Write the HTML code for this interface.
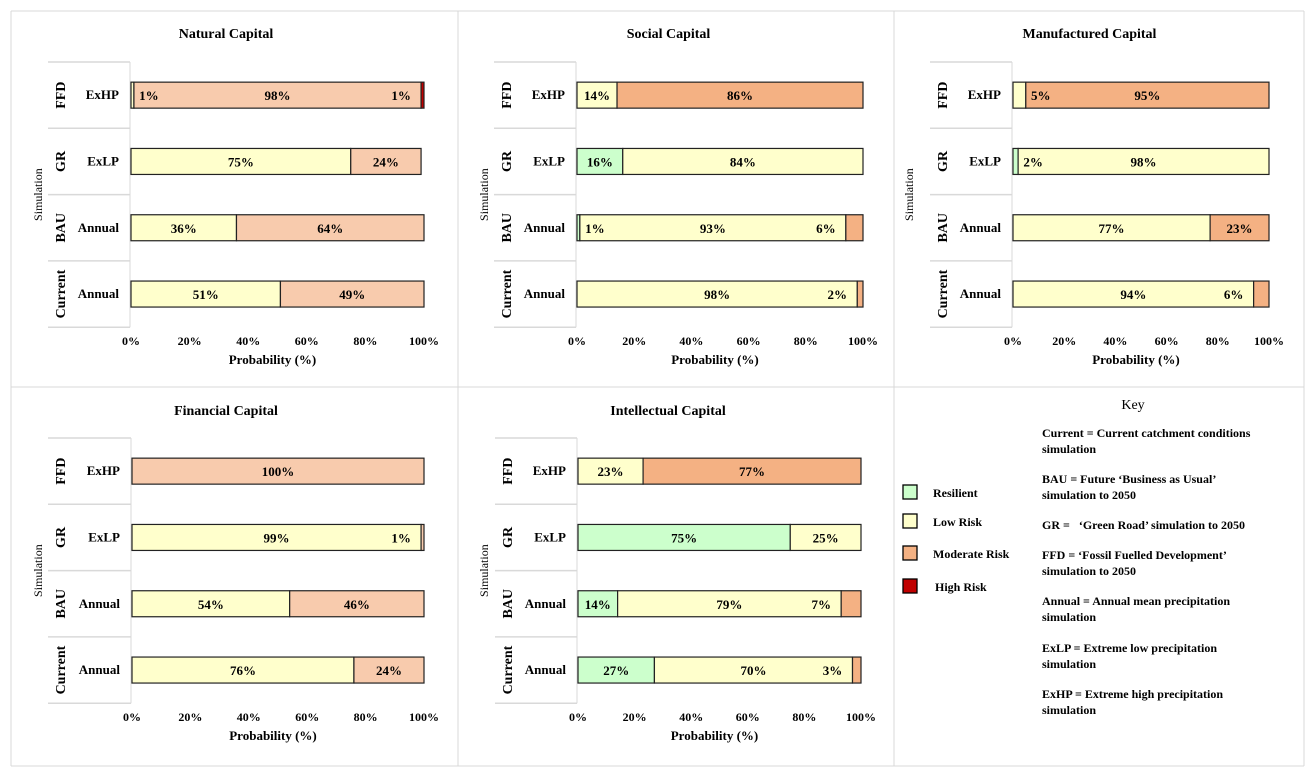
<!DOCTYPE html>
<html><head><meta charset="utf-8">
<style>
body{margin:0;background:#fff;}
svg{display:block;font-family:"Liberation Serif",serif;}
</style></head>
<body>
<svg id="chart" width="1315" height="780" viewBox="0 0 1315 780">
  <g stroke="#d9d9d9" stroke-width="1">
    <line x1="11" y1="11" x2="1304" y2="11"/>
    <line x1="11" y1="387" x2="1304" y2="387"/>
    <line x1="11" y1="766" x2="1304" y2="766"/>
    <line x1="11" y1="11" x2="11" y2="766"/>
    <line x1="458" y1="11" x2="458" y2="766"/>
    <line x1="894" y1="11" x2="894" y2="766"/>
    <line x1="1304" y1="11" x2="1304" y2="766"/>
  </g>
  <g id="charts"></g>
  <g>
    <text x="1133" y="409" text-anchor="middle" font-size="14">Key</text>
    <g><rect x="903" y="485" width="14" height="14" fill="#ccffcc" stroke="#000" stroke-width="1.3"/><text x="933" y="497" font-size="12" font-weight="bold">Resilient</text></g>
    <g><rect x="903" y="514" width="14" height="14" fill="#ffffcc" stroke="#000" stroke-width="1.3"/><text x="933" y="526" font-size="12" font-weight="bold">Low Risk</text></g>
    <g><rect x="903" y="546" width="14" height="14" fill="#f4b183" stroke="#000" stroke-width="1.3"/><text x="933" y="558" font-size="12" font-weight="bold">Moderate Risk</text></g>
    <g><rect x="903" y="579" width="14" height="14" fill="#c00000" stroke="#000" stroke-width="1.3"/><text x="935" y="591" font-size="12" font-weight="bold">High Risk</text></g>
    <g font-size="12" font-weight="bold">
      <text x="1042" y="437">Current = Current catchment conditions</text>
      <text x="1042" y="453">simulation</text>
      <text x="1042" y="483">BAU = Future ‘Business as Usual’</text>
      <text x="1042" y="499">simulation to 2050</text>
      <text x="1042" y="529" xml:space="preserve">GR =   ‘Green Road’ simulation to 2050</text>
      <text x="1042" y="559">FFD = ‘Fossil Fuelled Development’</text>
      <text x="1042" y="575">simulation to 2050</text>
      <text x="1042" y="605">Annual = Annual mean precipitation</text>
      <text x="1042" y="621">simulation</text>
      <text x="1042" y="652">ExLP = Extreme low precipitation</text>
      <text x="1042" y="668">simulation</text>
      <text x="1042" y="698">ExHP = Extreme high precipitation</text>
      <text x="1042" y="714">simulation</text>
    </g>
  </g>
</svg>
<script>
// rows top->bottom: FFD/ExHP, GR/ExLP, BAU/Annual, Current/Annual
const groups = ['FFD','GR','BAU','Current'];
const subs = ['ExHP','ExLP','Annual','Annual'];
const ticks = ['0%','20%','40%','60%','80%','100%'];
const tickVals = [0,20,40,60,80,100];
// values per row: [resilient, low, moderate, high]
const naturalVals = [[0,1,98,1],[0,75,24,0],[0,36,64,0],[0,51,49,0]];
const socialVals = [[0,14,86,0],[16,84,0,0],[1,93,6,0],[0,98,2,0]];
const manufacturedVals = [[0,5,95,0],[2,98,0,0],[0,77,23,0],[0,94,6,0]];
const financialVals = [[0,0,100,0],[0,99,1,0],[0,54,46,0],[0,76,24,0]];
const intellectualVals = [[0,23,77,0],[75,25,0,0],[14,79,7,0],[27,70,3,0]];

const panels = [
  {name:'natural-capital', title:'Natural Capital', vals:naturalVals, x0:131, x1:424, boxL:48, simX:42, top:62, titleY:38, mod:'#f8cbad'},
  {name:'social-capital', title:'Social Capital', vals:socialVals, x0:577, x1:863, boxL:494, simX:488, top:62, titleY:38, mod:'#f4b183'},
  {name:'manufactured-capital', title:'Manufactured Capital', vals:manufacturedVals, x0:1013, x1:1269, boxL:930, simX:913, top:62, titleY:38, mod:'#f4b183'},
  {name:'financial-capital', title:'Financial Capital', vals:financialVals, x0:132, x1:424, boxL:48, simX:42, top:438, titleY:415, mod:'#f8cbad'},
  {name:'intellectual-capital', title:'Intellectual Capital', vals:intellectualVals, x0:578, x1:861, boxL:495, simX:488, top:438, titleY:415, mod:'#f4b183'}
];
const NS='http://www.w3.org/2000/svg';
function mk(tag, attrs, parent){const e=document.createElementNS(NS,tag);for(const k in attrs)e.setAttribute(k,attrs[k]);parent.appendChild(e);return e;}
const root=document.getElementById('charts');
const catNames=['resilient','low-risk','moderate-risk','high-risk'];
panels.forEach(p=>{
  const g=mk('g',{},root);
  
  
  const xs=v=>p.x0+(p.x1-p.x0)*v/100;
  const rowH=66.3;
  const cx=(p.x0+p.x1)/2;
  const t=mk('text',{x:(p.boxL+p.x1)/2-10,y:p.titleY,'text-anchor':'middle','font-size':14,'font-weight':'bold'},g);
  t.textContent=p.title;
  
  
  const bottom=p.top+rowH*4;
  mk('line',{x1:p.x0-1,y1:p.top,x2:p.x0-1,y2:bottom,stroke:'#d9d9d9'},g);
  for(let i=0;i<=4;i++){mk('line',{x1:p.boxL,y1:p.top+rowH*i,x2:p.x0-1,y2:p.top+rowH*i,stroke:'#d9d9d9','stroke-width':1.5},g);}
  const sim=mk('text',{x:p.simX,y:(p.top+bottom)/2,'text-anchor':'middle','font-size':12,transform:`rotate(-90 ${p.simX} ${(p.top+bottom)/2})`},g);
  sim.textContent='Simulation';
  
  
  const colors=['#ccffcc','#ffffcc',p.mod,'#c00000'];
  p.vals.forEach((row,i)=>{
    const yc=p.top+rowH*i+rowH/2;
    const gl=mk('text',{x:p.boxL+17,y:yc,'text-anchor':'middle','font-size':14,'font-weight':'bold',transform:`rotate(-90 ${p.boxL+17} ${yc})`},g);
    gl.textContent=groups[i];
    
    
    const sl=mk('text',{x:p.x0-12,y:yc+4,'text-anchor':'end','font-size':13,'font-weight':'bold'},g);
    sl.textContent=subs[i];
    
    
    const by=yc-13, bh=26;
    let acc=0;
    const labels=[];
    row.forEach((v,k)=>{
      if(v<=0)return;
      const s=acc; acc+=v;
      const r=mk('rect',{x:xs(s),y:by,width:xs(acc)-xs(s),height:bh,fill:colors[k],stroke:'#222','stroke-width':1.2},g);
      
      
      let lx;
      if(v>=8) lx=(xs(s)+xs(acc))/2;
      else if(s===0) lx=xs(acc)+15;
      else lx=xs(s)-20;
      labels.push([lx,v]);
    });
    labels.forEach(([lx,v])=>{
      const lt=mk('text',{x:lx,y:yc+5,'text-anchor':'middle','font-size':13,'font-weight':'bold'},g);
      lt.textContent=v+'%';
      
      
    });
  });
  tickVals.forEach((v,j)=>{
    const tt=mk('text',{x:xs(v),y:bottom+18,'text-anchor':'middle','font-size':12,'font-weight':'bold'},g);
    tt.textContent=ticks[j];
    
    
  });
  const xt=mk('text',{x:cx-5,y:bottom+37,'text-anchor':'middle','font-size':13,'font-weight':'bold'},g);
  xt.textContent='Probability (%)';
  
  
});
</script>
</body></html>
